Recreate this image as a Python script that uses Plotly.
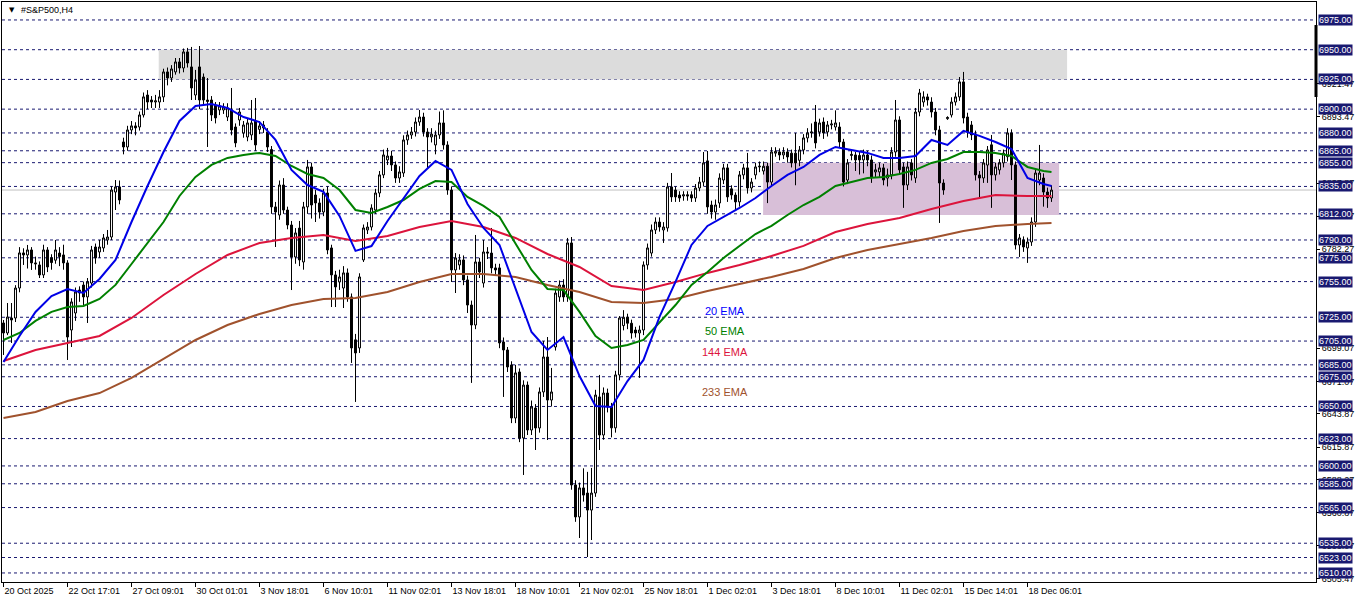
import plotly.graph_objects as go

FONT = "Liberation Sans, Arial, sans-serif"

# ---------------- data (H4 bars, index 0 = 20 Oct 2025) ----------------
bar_open = [
    6720.2, 6711.8, 6724.4, 6724.4, 6749.6, 6779.1, 6777.4, 6781.6, 6770.7, 6769.0,
    6760.6, 6781.6, 6775.0, 6773.0, 6779.0, 6777.4, 6770.7, 6714.3, 6728.6, 6747.9,
    6752.1, 6742.1, 6753.8, 6784.1, 6779.9, 6783.3, 6790.0, 6792.5, 6830.3, 6834.6,
    6872.4, 6868.2, 6882.5, 6885.9, 6885.0, 6895.1, 6911.9, 6907.7, 6906.0, 6906.0,
    6910.3, 6931.3, 6926.2, 6931.3, 6939.7, 6934.6, 6948.1, 6935.5, 6911.9, 6935.5,
    6927.0, 6907.7, 6907.7, 6903.5, 6899.3, 6899.3, 6893.4, 6899.3, 6885.0, 6890.9,
    6880.0, 6876.6, 6878.3, 6890.0, 6883.0, 6884.2, 6880.8, 6866.0, 6817.8, 6811.0,
    6836.2, 6815.2, 6802.6, 6775.7, 6800.0, 6771.5, 6817.8, 6851.4, 6827.8, 6821.1,
    6813.5, 6829.5, 6783.3, 6760.6, 6754.7, 6749.6, 6762.3, 6742.1, 6706.0, 6699.2,
    6773.2, 6798.4, 6800.9, 6815.2, 6829.5, 6844.7, 6857.3, 6860.6, 6853.1, 6842.1,
    6846.3, 6874.1, 6878.3, 6880.8, 6889.2, 6893.4, 6880.8, 6876.6, 6869.9, 6878.3,
    6888.4, 6869.9, 6832.0, 6764.8, 6769.0, 6773.2, 6756.4, 6735.3, 6718.5, 6771.5,
    6753.8, 6779.9, 6779.0, 6766.5, 6766.5, 6704.2, 6697.5, 6684.9, 6640.3, 6679.0,
    6623.5, 6668.0, 6630.2, 6648.7, 6631.9, 6662.2, 6691.6, 6655.4, 6700.0, 6742.1,
    6752.1, 6742.1, 6787.5, 6584.0, 6557.1, 6581.5, 6577.2, 6562.9, 6577.2, 6658.0,
    6626.0, 6661.3, 6649.6, 6632.0, 6676.5, 6718.0, 6725.0, 6720.0, 6714.3, 6711.8,
    6714.3, 6769.0, 6779.0, 6798.4, 6805.1, 6798.4, 6800.1, 6834.6, 6832.0, 6827.8,
    6827.0, 6828.0, 6828.0, 6825.3, 6833.7, 6838.7, 6856.5, 6819.4, 6813.5, 6821.1,
    6840.4, 6850.6, 6833.0, 6827.8, 6822.0, 6844.7, 6850.6, 6833.7, 6844.7, 6851.4,
    6848.0, 6852.0, 6838.7, 6863.0, 6864.0, 6861.5, 6864.0, 6863.0, 6863.0, 6857.0,
    6865.7, 6875.8, 6880.0, 6889.2, 6880.8, 6889.2, 6880.8, 6886.7, 6885.0, 6885.0,
    6872.4, 6840.4, 6861.0, 6861.5, 6861.0, 6857.3, 6861.5, 6857.3, 6847.2, 6847.2,
    6850.6, 6842.0, 6844.7, 6864.0, 6890.9, 6851.4, 6836.2, 6854.8, 6842.1, 6897.6,
    6906.0, 6910.3, 6906.0, 6897.6, 6882.5, 6837.9, 6892.0, 6895.1, 6906.0, 6910.3,
    6922.9, 6893.4, 6886.7, 6878.3, 6844.7, 6842.1, 6853.0, 6870.0, 6844.7, 6848.9,
    6854.8, 6860.0, 6880.0, 6853.1, 6785.8, 6790.0, 6783.3, 6788.3, 6805.1, 6840.4,
    6842.1, 6830.3, 6825.3,
]
bar_high = [
    6722.7, 6737.0, 6737.0, 6752.0, 6784.0, 6783.0, 6785.8, 6784.0, 6776.0, 6772.0,
    6786.0, 6784.0, 6778.0, 6790.0, 6784.0, 6786.0, 6773.0, 6741.0, 6750.0, 6751.0,
    6755.0, 6758.0, 6785.0, 6787.0, 6790.0, 6795.0, 6798.4, 6835.0, 6840.4, 6840.0,
    6876.0, 6886.0, 6890.0, 6889.0, 6898.0, 6914.0, 6916.0, 6911.0, 6912.0, 6916.0,
    6934.0, 6935.0, 6937.0, 6943.0, 6943.0, 6951.0, 6951.5, 6952.3, 6933.0, 6953.1,
    6930.0, 6926.2, 6911.0, 6906.0, 6906.0, 6905.0, 6905.0, 6917.8, 6888.0, 6901.0,
    6890.0, 6892.0, 6907.7, 6909.4, 6890.0, 6890.0, 6884.0, 6869.0, 6822.0, 6840.0,
    6842.0, 6818.0, 6806.0, 6800.0, 6806.0, 6822.0, 6857.3, 6855.0, 6832.0, 6825.0,
    6833.0, 6835.0, 6786.0, 6764.0, 6765.0, 6768.0, 6766.0, 6745.0, 6711.0, 6762.0,
    6803.0, 6805.0, 6820.0, 6833.0, 6848.0, 6866.0, 6867.4, 6865.0, 6856.0, 6852.0,
    6878.0, 6882.0, 6885.0, 6893.0, 6899.3, 6897.0, 6884.0, 6884.0, 6882.0, 6898.0,
    6899.0, 6873.0, 6835.0, 6779.0, 6778.0, 6777.0, 6760.0, 6739.0, 6794.2, 6775.0,
    6790.0, 6784.0, 6800.1, 6770.0, 6770.0, 6708.0, 6700.0, 6688.0, 6685.0, 6682.0,
    6672.0, 6671.0, 6655.0, 6652.0, 6666.0, 6705.0, 6708.4, 6682.4, 6749.0, 6756.0,
    6757.0, 6791.7, 6792.5, 6588.0, 6586.0, 6598.0, 6595.0, 6598.3, 6664.0, 6676.5,
    6666.0, 6665.0, 6653.0, 6680.0, 6726.0, 6731.0, 6728.0, 6723.0, 6717.0, 6718.0,
    6772.0, 6787.0, 6803.0, 6809.0, 6809.0, 6805.0, 6838.0, 6846.3, 6835.0, 6831.0,
    6831.0, 6831.0, 6831.0, 6837.0, 6843.0, 6864.0, 6864.8, 6823.0, 6824.0, 6846.0,
    6854.0, 6854.0, 6836.0, 6830.0, 6848.0, 6854.0, 6863.2, 6842.0, 6855.0, 6856.0,
    6856.0, 6855.0, 6868.0, 6868.0, 6867.0, 6868.0, 6867.0, 6866.0, 6880.0, 6869.0,
    6879.0, 6884.0, 6888.0, 6903.5, 6892.0, 6893.0, 6890.0, 6891.0, 6899.0, 6889.0,
    6875.0, 6858.0, 6865.0, 6864.0, 6864.0, 6866.0, 6865.0, 6861.0, 6854.0, 6855.0,
    6854.0, 6850.0, 6868.0, 6907.7, 6894.0, 6855.0, 6856.0, 6858.0, 6901.0, 6917.0,
    6915.0, 6913.0, 6910.0, 6901.0, 6886.0, 6841.0, 6894.0, 6910.0, 6914.0, 6927.0,
    6931.3, 6897.0, 6890.0, 6882.0, 6848.0, 6858.0, 6869.0, 6878.3, 6855.0, 6858.0,
    6866.0, 6884.0, 6883.0, 6856.0, 6795.0, 6793.0, 6792.0, 6809.0, 6849.0, 6869.9,
    6846.0, 6834.0, 6836.0,
]
bar_low = [
    6693.3, 6710.0, 6703.4, 6721.0, 6746.0, 6769.0, 6766.0, 6764.8, 6765.0, 6758.0,
    6758.0, 6763.0, 6765.0, 6770.0, 6768.0, 6765.0, 6689.1, 6700.0, 6722.0, 6738.0,
    6735.0, 6720.2, 6750.0, 6770.0, 6775.0, 6780.0, 6786.0, 6790.0, 6815.2, 6820.0,
    6862.0, 6865.0, 6879.0, 6878.0, 6882.0, 6893.0, 6900.0, 6901.0, 6901.0, 6901.0,
    6906.0, 6920.0, 6922.9, 6929.0, 6930.0, 6931.0, 6935.0, 6907.7, 6907.7, 6900.0,
    6903.0, 6868.2, 6890.0, 6888.0, 6895.0, 6896.0, 6890.0, 6878.0, 6868.0, 6886.0,
    6876.0, 6873.0, 6874.0, 6865.0, 6879.0, 6880.0, 6864.0, 6812.0, 6784.1, 6807.0,
    6812.0, 6799.0, 6747.9, 6770.0, 6768.0, 6765.0, 6812.0, 6808.0, 6805.1, 6808.0,
    6810.0, 6778.0, 6733.6, 6733.6, 6748.0, 6732.8, 6738.0, 6686.6, 6653.8, 6695.0,
    6771.5, 6795.0, 6798.0, 6812.0, 6826.0, 6842.0, 6853.0, 6848.0, 6838.0, 6838.0,
    6843.0, 6870.0, 6875.0, 6877.0, 6886.0, 6877.0, 6850.6, 6872.0, 6862.0, 6875.0,
    6866.0, 6828.0, 6754.7, 6745.4, 6765.0, 6752.0, 6728.6, 6669.8, 6715.0, 6758.0,
    6750.0, 6774.0, 6762.0, 6760.0, 6699.0, 6658.0, 6679.0, 6636.0, 6636.0, 6620.0,
    6592.4, 6626.0, 6626.0, 6613.4, 6628.0, 6658.0, 6621.8, 6650.0, 6697.0, 6738.0,
    6738.0, 6738.0, 6580.0, 6553.0, 6539.4, 6570.0, 6523.4, 6537.7, 6574.0, 6613.4,
    6622.0, 6645.0, 6624.0, 6628.0, 6672.0, 6714.0, 6715.0, 6707.0, 6708.0, 6674.0,
    6710.0, 6765.0, 6776.0, 6795.0, 6797.0, 6787.5, 6797.0, 6822.0, 6822.0, 6822.0,
    6823.0, 6823.0, 6822.0, 6822.0, 6831.0, 6835.0, 6812.0, 6808.0, 6807.0, 6817.0,
    6837.0, 6822.0, 6824.0, 6815.0, 6818.0, 6841.0, 6829.0, 6830.0, 6841.0, 6847.0,
    6845.0, 6821.0, 6835.0, 6860.0, 6857.0, 6858.0, 6855.0, 6851.0, 6836.0, 6852.0,
    6862.0, 6872.0, 6876.0, 6867.0, 6877.0, 6875.0, 6877.0, 6883.0, 6882.0, 6868.0,
    6835.0, 6837.0, 6857.0, 6848.0, 6845.0, 6846.0, 6852.0, 6838.0, 6843.0, 6843.0,
    6836.0, 6835.0, 6841.0, 6860.0, 6845.0, 6817.0, 6832.0, 6840.0, 6838.0, 6894.0,
    6902.0, 6903.0, 6893.0, 6878.0, 6804.3, 6828.0, 6891.0, 6893.0, 6903.0, 6907.0,
    6888.0, 6876.0, 6874.0, 6840.0, 6825.0, 6838.0, 6838.0, 6817.0, 6840.0, 6845.0,
    6851.0, 6856.0, 6840.4, 6782.0, 6775.7, 6780.0, 6770.7, 6785.0, 6801.0, 6836.0,
    6818.0, 6817.0, 6822.0,
]
bar_close = [
    6711.8, 6725.2, 6722.7, 6749.6, 6779.1, 6777.4, 6781.6, 6770.7, 6770.0, 6760.6,
    6781.6, 6767.3, 6771.0, 6781.6, 6776.0, 6770.7, 6708.4, 6737.9, 6746.3, 6745.4,
    6742.1, 6754.7, 6781.6, 6774.9, 6784.1, 6791.7, 6792.5, 6832.0, 6834.6, 6823.6,
    6868.2, 6882.5, 6885.9, 6884.2, 6895.1, 6910.3, 6906.0, 6906.0, 6907.0, 6910.3,
    6931.3, 6926.2, 6933.8, 6939.7, 6934.6, 6948.1, 6938.8, 6917.8, 6924.5, 6907.7,
    6907.7, 6906.5, 6895.1, 6892.6, 6902.7, 6901.8, 6901.0, 6882.5, 6871.6, 6897.6,
    6886.7, 6888.4, 6888.4, 6869.9, 6885.9, 6886.7, 6868.2, 6817.8, 6813.5, 6836.2,
    6815.2, 6802.6, 6775.7, 6795.9, 6773.2, 6817.8, 6851.4, 6819.4, 6821.1, 6813.5,
    6829.5, 6781.6, 6760.6, 6750.5, 6758.9, 6762.3, 6742.1, 6699.2, 6695.0, 6758.9,
    6800.1, 6800.9, 6816.9, 6829.5, 6844.7, 6861.5, 6860.6, 6853.1, 6842.1, 6847.2,
    6874.1, 6878.3, 6880.8, 6889.2, 6893.4, 6880.8, 6876.6, 6879.0, 6878.3, 6888.4,
    6869.9, 6832.0, 6764.8, 6774.9, 6773.2, 6756.4, 6735.3, 6718.5, 6771.5, 6763.1,
    6779.9, 6779.0, 6766.5, 6764.8, 6703.4, 6697.5, 6683.2, 6640.3, 6678.2, 6623.5,
    6668.0, 6630.2, 6649.6, 6631.9, 6662.2, 6691.6, 6655.4, 6662.2, 6745.4, 6752.1,
    6742.1, 6787.5, 6584.0, 6557.1, 6581.5, 6575.5, 6562.9, 6577.2, 6659.6, 6626.0,
    6661.3, 6649.6, 6632.0, 6676.5, 6724.4, 6725.0, 6720.0, 6711.8, 6711.8, 6714.3,
    6769.0, 6783.3, 6798.4, 6805.1, 6800.9, 6800.9, 6834.6, 6826.2, 6826.2, 6825.3,
    6828.0, 6827.0, 6825.3, 6833.7, 6838.7, 6854.8, 6817.8, 6813.5, 6819.4, 6842.1,
    6850.6, 6826.2, 6827.8, 6822.0, 6844.7, 6850.6, 6833.7, 6838.7, 6851.4, 6852.0,
    6852.0, 6838.7, 6864.0, 6864.5, 6861.5, 6864.0, 6859.8, 6854.8, 6854.8, 6865.7,
    6875.8, 6880.0, 6880.8, 6871.6, 6888.4, 6880.0, 6886.7, 6887.5, 6888.4, 6872.4,
    6838.7, 6854.8, 6862.0, 6857.3, 6857.3, 6861.5, 6857.3, 6843.0, 6849.0, 6850.6,
    6840.4, 6844.7, 6864.0, 6890.9, 6848.9, 6836.2, 6851.4, 6844.7, 6897.6, 6913.6,
    6910.3, 6907.7, 6897.6, 6882.5, 6837.9, 6832.0, 6893.0, 6906.0, 6910.3, 6922.9,
    6892.6, 6880.8, 6878.3, 6844.7, 6842.1, 6854.8, 6865.7, 6844.7, 6851.4, 6854.8,
    6863.0, 6880.0, 6853.1, 6785.8, 6791.7, 6784.1, 6788.3, 6805.1, 6846.3, 6846.3,
    6830.3, 6825.3, 6832.0,
]
bar_index = list(range(len(bar_close)))

# time-axis labels (one every 16 bars)
date_tick_bars = list(range(0, 257, 16))
date_tick_text = ["20 Oct 2025", "22 Oct 17:01", "27 Oct 09:01", "30 Oct 01:01",
                  "3 Nov 18:01", "6 Nov 10:01", "11 Nov 02:01", "13 Nov 18:01",
                  "18 Nov 10:01", "21 Nov 02:01", "25 Nov 18:01", "1 Dec 02:01",
                  "3 Dec 18:01", "8 Dec 10:01", "11 Dec 02:01", "15 Dec 14:01",
                  "18 Dec 06:01"]

# moving averages
ema_fast_bars = list(range(0, 261, 4)) + [262]
ema20 = [6687.4, 6709.3, 6729.5, 6742.9, 6748.8, 6745.4, 6757.2, 6773.2, 6805.1, 6835.4,
         6864.0, 6890.1, 6902.7, 6904.4, 6901.0, 6893.4, 6889.2, 6874.1, 6848.9, 6836.2,
         6830.4, 6810.2, 6780.8, 6784.9, 6806.0, 6824.5, 6843.8, 6856.4, 6848.9, 6820.3,
         6800.1, 6785.8, 6749.6, 6712.6, 6697.5, 6708.4, 6675.6, 6650.4, 6649.6, 6671.4,
         6689.1, 6725.3, 6754.7, 6785.8, 6801.8, 6809.3, 6816.9, 6825.3, 6835.4, 6844.7,
         6851.4, 6861.5, 6868.2, 6865.7, 6863.2, 6859.0, 6859.0, 6860.6, 6874.1, 6869.9,
         6881.7, 6877.5, 6872.4, 6866.5, 6842.1, 6837.1, 6835.4]
ema50 = [6705.9, 6711.8, 6721.9, 6729.5, 6733.7, 6734.5, 6740.4, 6752.2, 6769.8, 6787.5,
         6805.1, 6827.0, 6843.0, 6853.1, 6859.0, 6861.5, 6863.2, 6860.6, 6852.2, 6845.5,
         6842.1, 6832.0, 6815.2, 6812.7, 6817.7, 6823.6, 6832.9, 6839.6, 6838.8, 6826.2,
         6818.6, 6809.3, 6786.6, 6764.8, 6748.8, 6747.9, 6729.5, 6709.3, 6699.2, 6701.7,
         6705.9, 6721.0, 6735.3, 6752.2, 6763.1, 6774.9, 6785.0, 6795.0, 6801.8, 6811.0,
         6819.4, 6826.2, 6835.4, 6838.8, 6842.1, 6843.0, 6845.5, 6848.9, 6854.8, 6858.1,
         6864.0, 6864.0, 6863.2, 6860.6, 6851.4, 6848.0, 6847.2]
ema_slow_bars = list(range(0, 257, 8)) + [262]
ema144 = [6688.2, 6697.5, 6703.4, 6709.3, 6724.4, 6743.7, 6761.4, 6777.4, 6787.5, 6791.7,
          6794.2, 6789.2, 6793.4, 6800.9, 6806.0, 6800.9, 6791.7, 6778.2, 6767.3, 6751.3,
          6747.9, 6754.7, 6762.3, 6769.0, 6776.5, 6785.0, 6796.7, 6803.5, 6808.5, 6816.1,
          6822.8, 6827.8, 6827.0, 6827.0]
ema233 = [6640.3, 6645.4, 6654.6, 6661.3, 6674.0, 6690.0, 6705.9, 6718.5, 6727.8, 6735.3,
          6740.4, 6741.2, 6746.3, 6754.7, 6761.4, 6761.4, 6758.9, 6752.2, 6746.3, 6737.9,
          6737.0, 6740.4, 6747.1, 6753.0, 6758.9, 6765.6, 6774.9, 6781.6, 6786.6, 6791.7,
          6797.6, 6801.8, 6803.5, 6804.3]

# horizontal levels drawn on the chart (with their price tags)
level_prices = [6975, 6950, 6925, 6900, 6880, 6865, 6855, 6835, 6812, 6790, 6775, 6755,
                6725, 6705, 6685, 6675, 6650, 6623, 6600, 6585, 6565, 6535, 6523, 6510]
# automatic price-scale ticks that show around the tags
axis_tick_prices = [6505.47, 6533.07, 6560.87, 6588.27, 6615.87, 6643.87, 6671.07, 6699.07,
                    6782.27, 6810.07, 6837.87, 6893.47, 6921.47]

# zones: (first bar, last bar, low price, high price)
supply_zone = (38.8, 265.9, 6925, 6950)
range_zone = (189.9, 263.9, 6811, 6855)
bid_price = 6832.0

# ---------------- figure ----------------
fig = go.Figure()

fig.add_trace(go.Candlestick(
    x=bar_index, open=bar_open, high=bar_high, low=bar_low, close=bar_close,
    increasing=dict(line=dict(color="black", width=1), fillcolor="white"),
    decreasing=dict(line=dict(color="black", width=1), fillcolor="black"),
    whiskerwidth=0, hoverinfo="skip", showlegend=False,
))

for xs, ys, col in [(ema_slow_bars, ema233, "#a0522d"),
                    (ema_slow_bars, ema144, "#dc143c"),
                    (ema_fast_bars, ema50, "#008000"),
                    (ema_fast_bars, ema20, "#0000e6")]:
    fig.add_trace(go.Scatter(x=xs, y=ys, mode="lines", line=dict(color=col, width=2),
                             hoverinfo="skip", showlegend=False))

shapes = []
shapes.append(dict(type="rect", xref="x", yref="y", x0=supply_zone[0], x1=supply_zone[1],
                   y0=supply_zone[2], y1=supply_zone[3], fillcolor="#dcdcdc",
                   line=dict(width=0), layer="below"))
shapes.append(dict(type="rect", xref="x", yref="y", x0=range_zone[0], x1=range_zone[1],
                   y0=range_zone[2], y1=range_zone[3], fillcolor="#d8bfd8",
                   line=dict(width=0), layer="below"))
shapes.append(dict(type="line", xref="paper", yref="y", x0=0, x1=1, y0=bid_price, y1=bid_price,
                   line=dict(color="#c0c0c0", width=1), layer="below"))
for p in level_prices:
    shapes.append(dict(type="line", xref="paper", yref="y", x0=0, x1=1, y0=p, y1=p,
                       line=dict(color="#191970", width=1, dash="3px,3px"), layer="below"))
shapes.append(dict(type="line", xref="paper", yref="paper", x0=1, x1=1, y0=0.8362, y1=0.9603,
                   line=dict(color="black", width=3)))

annotations = []
for p in level_prices:
    annotations.append(dict(xref="paper", x=1, xanchor="left", xshift=2, yref="y", y=p,
                            yanchor="middle", text=f"{p:.2f}", showarrow=False,
                            font=dict(family=FONT, size=9, color="white"),
                            bgcolor="#191970", borderpad=0))
for txt, xb, yp, col in [("20 EMA", 174.9, 6730.3, "#0000ff"),
                         ("50 EMA", 174.9, 6713.5, "#008000"),
                         ("144 EMA", 174.1, 6695.4, "#dc143c"),
                         ("233 EMA", 174.1, 6662.2, "#a0522d")]:
    annotations.append(dict(xref="x", x=xb, yref="y", y=yp, xanchor="left", yanchor="middle",
                            text=txt, showarrow=False,
                            font=dict(family=FONT, size=11, color=col)))
annotations.append(dict(xref="paper", x=0.0035, yref="paper", y=0.9862, xanchor="left",
                        yanchor="middle", text="▼", showarrow=False,
                        font=dict(family="DejaVu Sans", size=7, color="black")))
annotations.append(dict(xref="paper", x=0.0129, yref="paper", y=0.9862, xanchor="left",
                        yanchor="middle", text="#S&P500,H4", showarrow=False,
                        font=dict(family=FONT, size=9, color="black")))

fig.update_layout(
    width=1362, height=603,
    margin=dict(l=2, r=46, t=2, b=21, pad=0, autoexpand=False),
    paper_bgcolor="white", plot_bgcolor="white",
    hovermode=False, showlegend=False,
    shapes=shapes, annotations=annotations,
    font=dict(family=FONT, size=9, color="black"),
    xaxis=dict(range=[-0.375, 328.125], tickmode="array", tickvals=date_tick_bars,
               ticktext=date_tick_text, ticks="outside", ticklen=4, tickcolor="black",
               ticklabelposition="outside right", tickfont=dict(family=FONT, size=9, color="black"),
               showgrid=False, zeroline=False, showline=True, linecolor="black", linewidth=1,
               mirror=True, rangeslider=dict(visible=False), automargin=False, fixedrange=True),
    yaxis=dict(range=[6502.4, 6990.1], side="right", tickmode="array",
               tickvals=axis_tick_prices, ticktext=[f"{v:.2f}" for v in axis_tick_prices],
               ticks="outside", ticklen=3, tickcolor="black",
               tickfont=dict(family=FONT, size=9, color="black"),
               showgrid=False, zeroline=False, showline=True, linecolor="black", linewidth=1,
               mirror=True, automargin=False, fixedrange=True),
)

fig.write_html("out.html", config={"displayModeBar": False},
               post_script="document.body.style.margin='0';document.body.style.overflow='hidden';")
